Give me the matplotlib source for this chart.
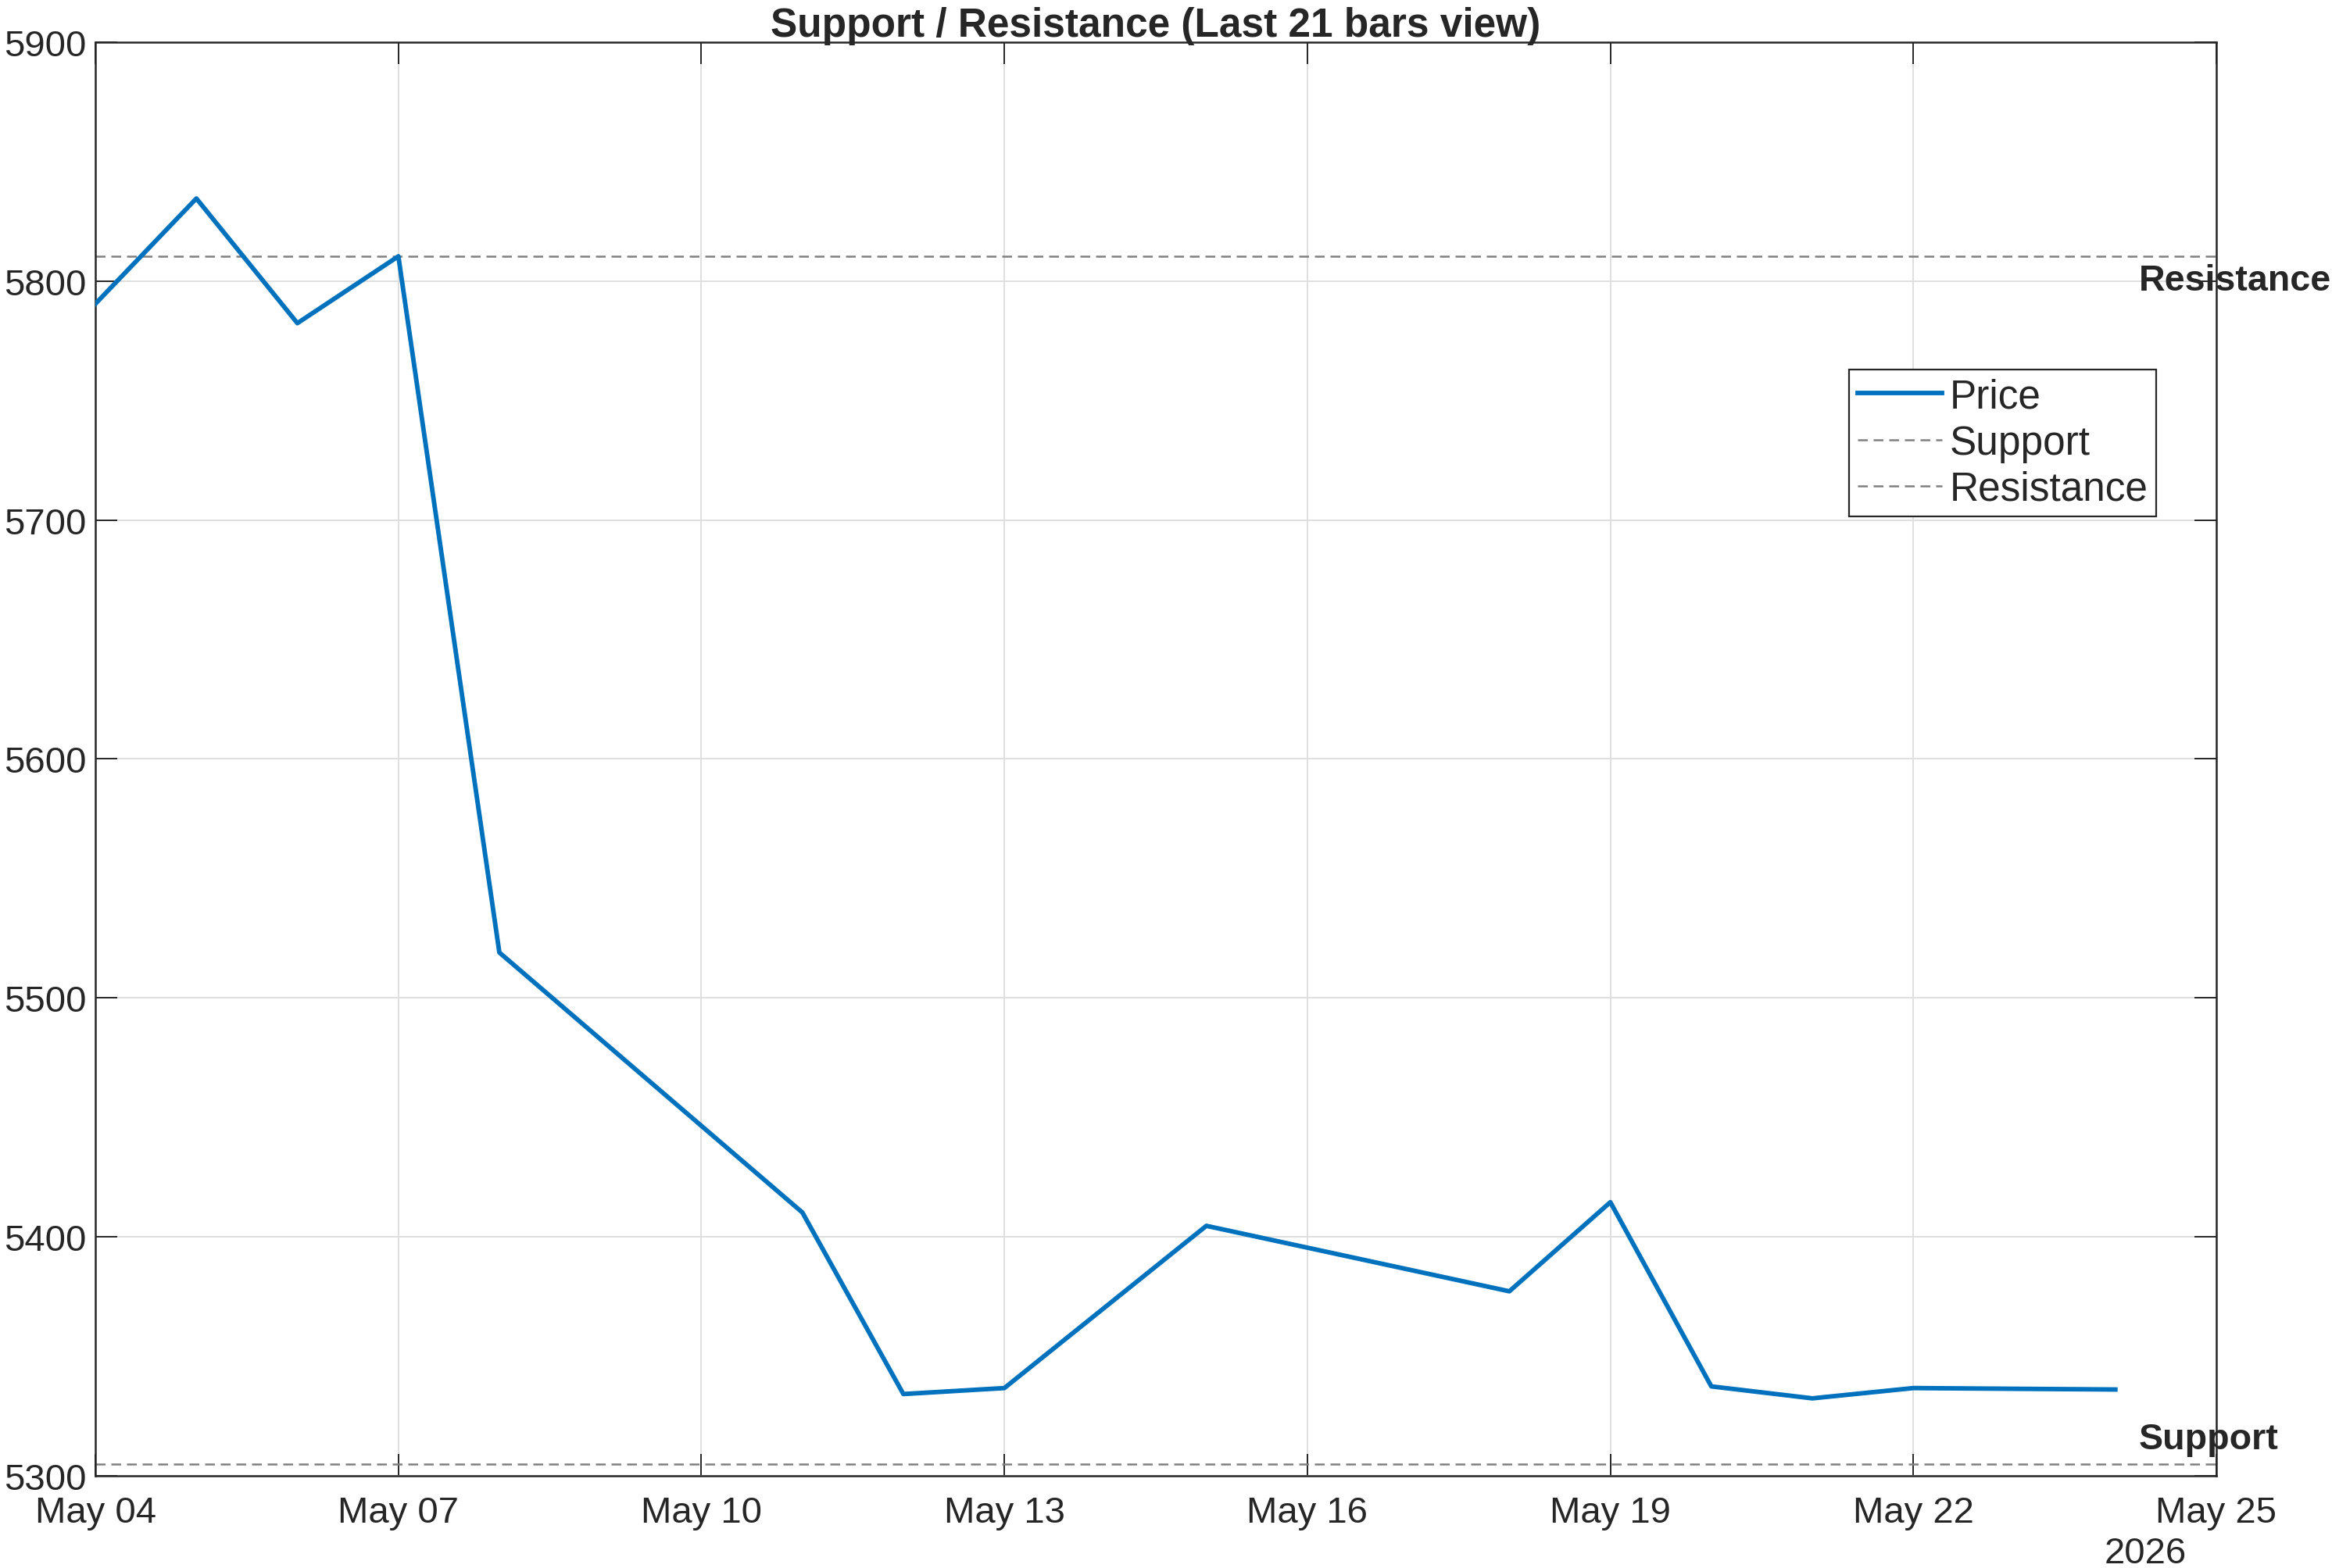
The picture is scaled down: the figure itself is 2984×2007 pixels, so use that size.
import numpy as np
import matplotlib.pyplot as plt
import matplotlib.dates as mdates
from datetime import datetime

plt.rcParams['font.family'] = ['Liberation Sans', 'DejaVu Sans']

dates = ["2026-05-04", "2026-05-05", "2026-05-06", "2026-05-07", "2026-05-08",
         "2026-05-11", "2026-05-12", "2026-05-13", "2026-05-15", "2026-05-18",
         "2026-05-19", "2026-05-20", "2026-05-21", "2026-05-22", "2026-05-24"]
price = [5790.5, 5834.6, 5782.4, 5810.4, 5519.0,
         5410.2, 5334.2, 5336.7, 5404.6, 5377.2,
         5414.5, 5337.4, 5332.4, 5336.7, 5336.1]
support = 5305.0
resistance = 5810.4
yticks = [5300, 5400, 5500, 5600, 5700, 5800, 5900]
xtick_dates = ["2026-05-04", "2026-05-07", "2026-05-10", "2026-05-13",
               "2026-05-16", "2026-05-19", "2026-05-22", "2026-05-25"]

x = [datetime.strptime(d, "%Y-%m-%d") for d in dates]
xt = [datetime.strptime(d, "%Y-%m-%d") for d in xtick_dates]

fig = plt.figure(figsize=(14.92, 10.04), dpi=200)
ax = fig.add_axes([0.0409, 0.0588, 0.9095, 0.9138])

dark = '#262626'
ax.plot(x, price, color='#0072BD', lw=2.1, label='Price', zorder=3)
ax.axhline(support, color='#808080', ls=(0, (5, 3)), lw=0.9, label='Support')
ax.axhline(resistance, color='#808080', ls=(0, (5, 3)), lw=0.9, label='Resistance')

ax.set_xlim(xt[0], xt[-1])
ax.set_ylim(5300, 5900)
ax.set_yticks(yticks)
ax.set_xticks(xt)
ax.xaxis.set_major_formatter(mdates.DateFormatter('%b %d'))
ax.grid(True, color='#dfdfdf', lw=0.7)
ax.set_axisbelow(True)
ax.tick_params(direction='in', length=10, width=0.7, top=True, right=True,
               labelsize=17, colors=dark)
ax.tick_params(axis='x', pad=9)
ax.tick_params(axis='y', pad=4)
for s in ax.spines.values():
    s.set_color(dark)
    s.set_linewidth(0.9)

ax.set_title('Support / Resistance (Last 21 bars view)', fontsize=18.5,
             fontweight='bold', color=dark, pad=3)

tx = mdates.date2num(x[-1]) + 0.23
ax.text(tx, resistance - 3, 'Resistance', fontsize=16.8, fontweight='bold',
        color=dark, va='top', ha='left', clip_on=False)
ax.text(tx, support + 3, 'Support', fontsize=16.8, fontweight='bold',
        color=dark, va='bottom', ha='left', clip_on=False)

# year label under the last tick, MATLAB style
fig.text(0.9375, 0.0095, '2026', fontsize=17, color=dark, ha='right', va='center')

leg = ax.legend(loc='upper right', bbox_to_anchor=(2759 / 2984, 1 - 474 / 2008),
                bbox_transform=fig.transFigure, fontsize=18.5, fancybox=False,
                framealpha=1, edgecolor=dark, handlelength=2.1, handletextpad=0.2,
                borderpad=0.2, labelspacing=0.2, borderaxespad=0)
leg.get_frame().set_linewidth(0.8)
for t in leg.get_texts():
    t.set_color(dark)

fig.savefig('out.png', dpi=200)
